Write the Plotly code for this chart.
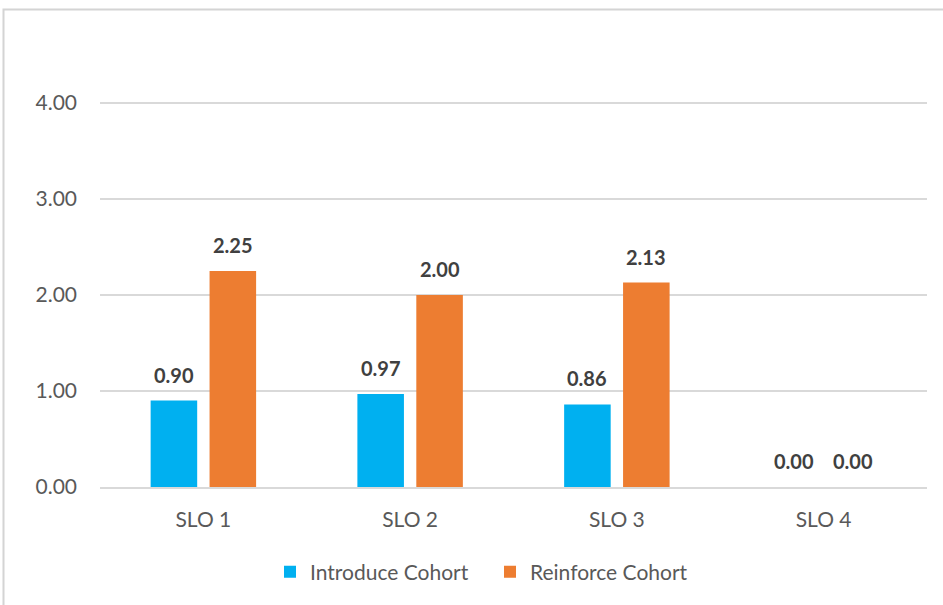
import plotly.graph_objects as go

categories = ["SLO 1", "SLO 2", "SLO 3", "SLO 4"]
introduce = [0.90, 0.97, 0.86, 0.00]
reinforce = [2.25, 2.00, 2.13, 0.00]
series_names = ["Introduce Cohort", "Reinforce Cohort"]
colors = ["#00B0F0", "#ED7D31"]
y_ticks = [0, 1, 2, 3, 4]

W, H = 943, 605
ML, MR, MT, MB = 100, 16, 55, 118
PW, PH = W - ML - MR, H - MT - MB
FONT = "Lato, 'Open Sans', sans-serif"

fig = go.Figure()
for name, vals, col in zip(series_names, [introduce, reinforce], colors):
    fig.add_trace(go.Bar(x=categories, y=vals, name=name, marker_color=col,
                         marker_line_width=0))

slot = PW / len(categories) * (1 - 0.43) / 2
annotations = []
for i, vals in enumerate([introduce, reinforce]):
    shift = (i - 0.5) * slot
    for c, v in zip(categories, vals):
        annotations.append(dict(x=c, y=v, text=f"<b>{v:.2f}</b>", showarrow=False,
                                xshift=shift, yshift=26, yanchor="middle",
                                font=dict(family=FONT, size=20, color="#404040")))

fig.update_layout(
    width=W, height=H,
    margin=dict(l=ML, r=MR, t=MT, b=MB),
    paper_bgcolor="white", plot_bgcolor="white",
    barmode="group", bargap=0.43, bargroupgap=0.21,
    font=dict(family=FONT, size=21, color="#595959"),
    showlegend=True,
    legend=dict(orientation="h", x=(270 - ML) / PW, xanchor="left",
                y=-(572 - (H - MB)) / PH, yanchor="middle",
                font=dict(family=FONT, size=21, color="#595959"), itemwidth=30,
                entrywidth=175, traceorder="normal"),
    annotations=annotations,
    shapes=[dict(type="rect", xref="paper", yref="paper",
                 x0=(3.5 - ML) / PW, x1=1.2, y0=-0.5, y1=(H - MB - 9.5) / PH,
                 line=dict(color="#D4D4D4", width=2), layer="below")],
)
fig.update_xaxes(showgrid=False, showline=True, linecolor="#D9D9D9", linewidth=1.5,
                 ticks="", ticklabelstandoff=13,
                 tickfont=dict(family=FONT, size=21, color="#595959"))
fig.update_yaxes(range=[0, 4.5], tickvals=y_ticks, tickformat=".2f",
                 showgrid=True, gridcolor="#D9D9D9", gridwidth=1.5,
                 zeroline=False, showline=False, ticks="", ticklabelstandoff=22,
                 tickfont=dict(family=FONT, size=21, color="#595959"))

fig.write_html("out.html")
